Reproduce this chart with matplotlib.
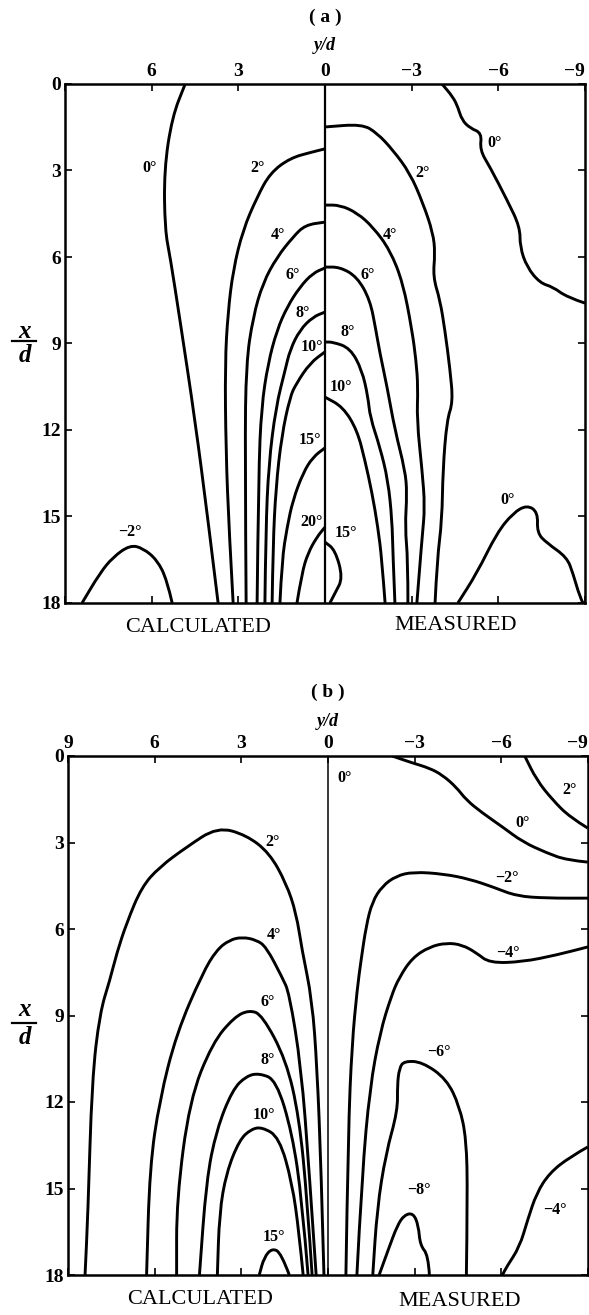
import matplotlib
matplotlib.use("Agg")
import matplotlib.pyplot as plt
from matplotlib.lines import Line2D
from matplotlib.path import Path
from matplotlib.patches import PathPatch

plt.rcParams['font.family'] = ['Liberation Serif', 'DejaVu Serif']

# ---------------------------------------------------------------
# Contour lines of the flow angle, given as (y/d, x/d) points.
# ---------------------------------------------------------------
# (a) calculated half (y/d > 0)
A_CALC_0 = [(4.84, 0), (5.29, 1.14), (5.57, 2.98), (5.54, 5.06), (5.36, 6.0),
            (5.02, 8.19), (4.50, 11.65), (4.05, 15.12), (3.70, 18.0)]
A_CALC_2 = [(0, 2.25), (0.45, 2.36), (1.21, 2.57), (1.90, 3.09), (2.35, 3.92),
            (2.84, 5.06), (3.18, 6.45), (3.36, 7.94), (3.46, 9.68), (3.43, 12.7),
            (3.32, 15.5), (3.18, 18)]
A_CALC_4 = [(0, 4.79), (0.69, 4.89), (1.11, 5.31), (1.66, 6.0), (2.15, 6.9),
            (2.49, 8.08), (2.73, 9.68), (2.77, 12.7), (2.73, 18)]
A_CALC_6 = [(0, 6.38), (0.42, 6.56), (0.87, 7.04), (1.31, 7.73), (1.66, 8.53),
            (1.97, 9.68), (2.2, 11.2), (2.3, 13.5), (2.35, 18)]
A_CALC_8 = [(0, 7.91), (0.42, 8.08), (0.87, 8.53), (1.21, 9.22), (1.38, 9.92),
            (1.7, 11.2), (1.95, 13.2), (2.05, 15.5), (2.08, 18)]
A_CALC_10 = [(0, 9.29), (0.52, 9.68), (1.0, 10.4), (1.21, 10.85), (1.5, 12.2),
             (1.7, 14), (1.8, 16), (1.83, 18)]
A_CALC_15 = [(0, 12.62), (0.42, 12.94), (0.76, 13.49), (1.11, 14.43), (1.31, 15.36),
             (1.49, 16.5), (1.56, 18)]
A_CALC_20 = [(0, 15.37), (0.28, 15.71), (0.59, 16.27), (0.80, 16.96), (0.97, 18)]
A_CALC_M2 = [(8.41, 18), (7.79, 16.96), (7.34, 16.41), (6.75, 15.99), (6.30, 16.10),
             (5.81, 16.51), (5.47, 17.2), (5.29, 18)]

# (a) measured half (y/d < 0)
A_MEAS_0_UP = [(-4.05, 0), (-4.43, 0.45), (-4.60, 0.80), (-4.74, 1.25), (-5.02, 1.53),
               (-5.43, 1.70), (-5.36, 2.29), (-5.71, 2.88), (-6.30, 4.02), (-6.75, 4.96),
               (-6.75, 5.65), (-6.99, 6.35), (-7.44, 6.90), (-7.89, 7.04), (-8.37, 7.39),
               (-9.0, 7.60)]
A_MEAS_2 = [(0, 1.49), (-1.28, 1.39), (-1.80, 1.70), (-2.35, 2.29), (-2.94, 3.09),
            (-3.39, 4.13), (-3.74, 5.17), (-3.81, 5.86), (-3.74, 6.69), (-3.98, 7.49),
            (-4.15, 8.53), (-4.33, 9.92), (-4.43, 11.03), (-4.22, 11.65), (-4.08, 13.39),
            (-4.05, 15.12), (-3.88, 16.51), (-3.81, 18)]
A_MEAS_4 = [(0, 4.20), (-0.52, 4.20), (-1.11, 4.47), (-1.66, 4.96), (-2.25, 5.76),
            (-2.70, 6.90), (-3.01, 8.53), (-3.15, 9.57), (-3.22, 10.51), (-3.18, 11.65),
            (-3.36, 13.39), (-3.46, 14.67), (-3.36, 15.71), (-3.18, 18)]
A_MEAS_6 = [(0, 6.35), (-0.52, 6.35), (-1.11, 6.69), (-1.56, 7.49), (-1.76, 8.53),
            (-1.90, 9.33), (-2.15, 10.51), (-2.42, 12.0), (-2.77, 13.39), (-2.84, 14.19),
            (-2.77, 15.37), (-2.87, 16.51), (-2.87, 18)]
A_MEAS_8 = [(0, 8.95), (-0.28, 8.95), (-0.87, 9.16), (-1.28, 9.92), (-1.49, 10.86),
            (-1.56, 11.55), (-1.90, 12.59), (-2.18, 13.74), (-2.32, 15.12), (-2.35, 16.27),
            (-2.42, 18)]
A_MEAS_10 = [(0, 10.86), (-0.62, 11.20), (-1.11, 12.0), (-1.38, 13.04), (-1.63, 14.19),
             (-1.83, 15.37), (-1.97, 16.51), (-2.08, 18)]
A_MEAS_15 = [(0, 15.89), (-0.35, 16.16), (-0.62, 17.13), (-0.35, 17.65), (-0.17, 18)]
A_MEAS_0_LOW = [(-4.60, 18), (-5.26, 16.96), (-5.95, 15.57), (-6.51, 14.88), (-6.99, 14.60),
                (-7.37, 14.85), (-7.34, 15.57), (-7.68, 15.92), (-8.37, 16.41), (-8.58, 16.96),
                (-8.82, 17.79), (-8.93, 18)]

# (b) calculated half
B_CALC_2 = [(8.41, 18), (8.31, 15.85), (8.17, 11.24), (7.90, 8.91), (7.55, 7.77),
            (7.31, 6.83), (6.97, 5.79), (6.45, 4.54), (5.83, 3.85), (4.90, 3.16),
            (3.83, 2.46), (2.83, 2.74), (2.03, 3.36), (1.45, 4.41), (1.10, 5.45),
            (0.90, 6.73), (0.55, 8.46), (0.38, 10.79), (0.24, 14.26), (0.14, 18)]
B_CALC_4 = [(6.28, 18), (6.17, 14.26), (5.83, 11.93), (5.24, 9.61), (4.34, 7.53),
            (3.86, 6.73), (3.41, 6.38), (2.97, 6.28), (2.48, 6.38), (2.14, 6.62),
            (1.59, 7.67), (1.34, 8.22), (0.93, 10.79), (0.66, 14.26), (0.41, 18)]
B_CALC_6 = [(5.24, 18), (5.24, 15.40), (4.79, 11.93), (4.0, 9.95), (3.24, 9.05),
            (2.72, 8.81), (2.28, 8.98), (1.45, 10.54), (1.0, 12.52), (0.72, 15.40),
            (0.55, 18)]
B_CALC_8 = [(4.45, 18), (4.21, 14.71), (3.86, 12.97), (3.31, 11.58), (2.83, 11.10),
            (2.38, 11.0), (1.79, 11.24), (1.24, 13.08), (0.90, 15.40), (0.69, 18)]
B_CALC_10 = [(3.83, 18), (3.76, 15.85), (3.52, 14.46), (3.07, 13.32), (2.66, 12.94),
             (2.28, 12.87), (1.69, 13.22), (1.24, 14.81), (1.0, 16.55), (0.86, 18)]
B_CALC_15 = [(2.38, 18), (2.21, 17.38), (1.93, 17.07), (1.62, 17.24), (1.34, 18)]

# (b) measured half
B_MEAS_2 = [(-6.81, 0), (-7.22, 0.83), (-7.78, 1.53), (-8.37, 2.12), (-8.99, 2.50)]
B_MEAS_0 = [(-2.22, 0), (-2.92, 0.24), (-3.51, 0.42), (-3.96, 0.66), (-4.44, 1.08),
            (-4.79, 1.53), (-5.35, 1.98), (-6.04, 2.46), (-6.74, 2.98), (-7.57, 3.36),
            (-8.26, 3.61), (-8.99, 3.68)]
B_MEAS_M2 = [(-9.0, 4.93), (-7.57, 4.93), (-6.53, 4.86), (-5.73, 4.55), (-4.90, 4.27),
             (-4.0, 4.09), (-2.95, 4.02), (-2.36, 4.16), (-1.88, 4.51), (-1.53, 5.06),
             (-1.32, 5.90), (-1.15, 7.04), (-1.01, 8.08), (-0.83, 10.0), (-0.70, 13.0),
             (-0.62, 18)]
B_MEAS_M4 = [(-9.0, 6.62), (-7.92, 6.90), (-6.74, 7.14), (-5.59, 7.18), (-5.14, 6.83),
             (-4.65, 6.55), (-4.10, 6.48), (-3.51, 6.62), (-2.92, 7.0), (-2.47, 7.67),
             (-2.19, 8.32), (-1.80, 9.6), (-1.45, 11.5), (-1.18, 14.5), (-1.0, 18)]
B_MEAS_M6 = [(-1.55, 18), (-1.70, 15.7), (-2.0, 13.8), (-2.41, 12.31), (-2.40, 11.41),
             (-2.47, 10.82), (-2.64, 10.58), (-3.26, 10.61), (-4.10, 11.20), (-4.55, 12.14),
             (-4.79, 13.28), (-4.83, 15.26), (-4.79, 18)]
B_MEAS_M8 = [(-1.77, 18), (-2.12, 17.03), (-2.40, 16.28), (-2.64, 15.92), (-2.95, 15.85),
             (-3.13, 16.28), (-3.19, 16.97), (-3.47, 17.31), (-3.51, 18)]
B_MEAS_M4_LOW = [(-6.04, 18), (-6.18, 17.72), (-6.63, 17.03), (-6.91, 16.09), (-7.22, 15.16),
                 (-7.67, 14.46), (-8.37, 13.91), (-8.99, 13.56)]

# Contour annotations: (text, y/d, x/d)
A_LABELS = [("0°", 6.06, 2.91), ("2°", 2.35, 2.91), ("4°", 1.63, 5.24), ("6°", 1.11, 6.62),
            ("8°", 0.76, 7.94), ("10°", 0.45, 9.12), ("15°", 0.52, 12.35), ("20°", 0.45, 15.19),
            ("−2°", 6.75, 15.54),
            ("0°", -5.88, 2.05), ("2°", -3.36, 3.09), ("4°", -2.25, 5.24), ("6°", -1.49, 6.62),
            ("8°", -0.80, 8.6), ("10°", -0.55, 10.5), ("15°", -0.72, 15.57), ("0°", -6.33, 14.43)]
B_LABELS = [("2°", 1.93, 2.98), ("4°", 1.86, 6.21), ("6°", 2.10, 8.53), ("8°", 2.10, 10.54),
            ("10°", 2.21, 12.45), ("15°", 1.86, 16.68),
            ("0°", -0.56, 0.76), ("2°", -8.37, 1.18), ("0°", -6.74, 2.32), ("−2°", -6.18, 4.23),
            ("−4°", -6.22, 6.83), ("−6°", -3.85, 10.27), ("−8°", -3.16, 15.05), ("−4°", -7.85, 15.75)]

YD_TICKS = [9, 6, 3, 0, -3, -6, -9]
A_YD_LABELS = ["", "6", "3", "0", "−3", "−6", "−9"]
B_YD_LABELS = ["9", "6", "3", "0", "−3", "−6", "−9"]
XD_TICKS = [0, 3, 6, 9, 12, 15, 18]

A_CURVES = [A_CALC_0, A_CALC_2, A_CALC_4, A_CALC_6, A_CALC_8, A_CALC_10, A_CALC_15,
            A_CALC_20, A_CALC_M2, A_MEAS_0_UP, A_MEAS_2, A_MEAS_4, A_MEAS_6, A_MEAS_8,
            A_MEAS_10, A_MEAS_15, A_MEAS_0_LOW]
B_CURVES = [B_CALC_2, B_CALC_4, B_CALC_6, B_CALC_8, B_CALC_10, B_CALC_15,
            B_MEAS_2, B_MEAS_0, B_MEAS_M2, B_MEAS_M4, B_MEAS_M6, B_MEAS_M8, B_MEAS_M4_LOW]

W, H = 589, 1315
fig = plt.figure(figsize=(W / 100, H / 100), dpi=100)
fig.patch.set_facecolor("white")


def fx(px):
    return px / W


def fy(py):
    return 1 - py / H


def smooth_path(pts):
    """Quadratic-Bezier path through the midpoints of the read points."""
    verts = [pts[0]]
    codes = [Path.MOVETO]
    if len(pts) > 2:
        m = ((pts[0][0] + pts[1][0]) / 2, (pts[0][1] + pts[1][1]) / 2)
        verts.append(m)
        codes.append(Path.LINETO)
        for i in range(1, len(pts) - 1):
            nxt = ((pts[i][0] + pts[i + 1][0]) / 2, (pts[i][1] + pts[i + 1][1]) / 2)
            if i == len(pts) - 2:
                nxt = pts[i + 1]
            verts += [pts[i], nxt]
            codes += [Path.CURVE3, Path.CURVE3]
    else:
        verts.append(pts[1])
        codes.append(Path.LINETO)
    return Path(verts, codes)


def panel(rect, curves, labels, yd_labels, center_lw):
    ax = fig.add_axes(rect)
    ax.set_xlim(9, -9)
    ax.set_ylim(18, 0)
    for c in curves:
        patch = PathPatch(smooth_path(c), facecolor="none", edgecolor="black",
                          lw=2.1, joinstyle="round", capstyle="butt",
                          transform=ax.transData)
        ax.add_patch(patch)
    ax.axvline(0, color="black", lw=center_lw)
    for t, yd, xd in labels:
        ax.text(yd, xd, t, fontsize=11.5, fontweight="bold", ha="center", va="center")
    for s in ax.spines.values():
        s.set_linewidth(1.8)
    ax.set_xticks(YD_TICKS)
    ax.set_xticklabels(yd_labels)
    ax.set_yticks(XD_TICKS)
    ax.set_yticklabels([str(v) for v in XD_TICKS])
    ax.xaxis.tick_top()
    ax.tick_params(axis="both", which="both", direction="in", length=5, width=1.2,
                   top=True, bottom=True, left=True, right=True,
                   labeltop=True, labelbottom=False, labelleft=True, labelright=False,
                   labelsize=14, pad=3)
    for lab in ax.get_xticklabels() + ax.get_yticklabels():
        lab.set_fontweight("bold")
    ax.get_xticklabels()[-1].set_horizontalalignment("right")
    return ax


# axes rectangles from the plot frame edges
a_rect = [fx(65), fy(603), fx(585) - fx(65), fy(84) - fy(603)]
b_rect = [fx(68), fy(1275), fx(588) - fx(68), fy(756) - fy(1275)]
axa = panel(a_rect, A_CURVES, A_LABELS, A_YD_LABELS, 1.6)
axb = panel(b_rect, B_CURVES, B_LABELS, B_YD_LABELS, 1.1)

# titles and axis names
for ttl, cx, yt, yy in [("( a )", 325, 17, 45), ("( b )", 328, 692, 722)]:
    fig.text(fx(cx), fy(yt), ttl, ha="center", va="center", fontsize=14, fontweight="bold")
    fig.text(fx(cx), fy(yy), "y/d", ha="center", va="center", fontsize=13,
             fontweight="bold", style="italic")

for (xc, yc), (xm, ym) in [((198, 628), (456, 626)), ((200, 1300), (460, 1302))]:
    fig.text(fx(xc), fy(yc), "CALCULATED", ha="center", va="center", fontsize=16)
    fig.text(fx(xm), fy(ym), "MEASURED", ha="center", va="center", fontsize=16)

# x/d fraction on the left
for yx, ybar, yd_ in [(331, 341, 355), (1009, 1023, 1038)]:
    fig.text(fx(25), fy(yx), "x", ha="center", va="center", fontsize=18,
             fontweight="bold", style="italic")
    fig.add_artist(Line2D([fx(12), fx(36)], [fy(ybar), fy(ybar)], color="black", lw=1.6))
    fig.text(fx(25), fy(yd_), "d", ha="center", va="center", fontsize=18,
             fontweight="bold", style="italic")

fig.savefig("out.png", dpi=100, facecolor="white")
